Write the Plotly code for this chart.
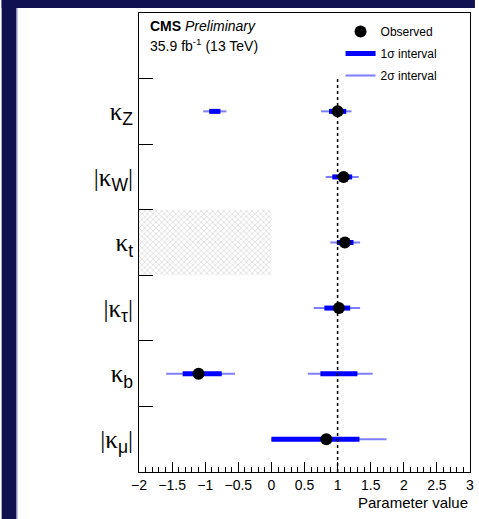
import plotly.graph_objects as go

SANS = "Liberation Sans"
NAVY = "#0f1150"


def sub(s):
    return "<sub><span style='font-family:%s'>%s</span></sub>" % (SANS, s)


# Coupling modifiers, listed top to bottom
param_labels = [
    "κ" + sub("Z"),
    "|κ" + sub("W") + "|",
    "κ" + sub("t"),
    "|κ" + sub("τ") + "|",
    "κ" + sub("b"),
    "|κ" + sub("μ") + "|",
]
# Observed best-fit values
best_fit = [1.00, 1.09, 1.11, 1.02, -1.10, 0.83]
# 68% CL intervals (may consist of two disjoint pieces)
interval_1sigma = [
    [(-0.94, -0.77), (0.87, 1.13)],
    [(0.92, 1.22)],
    [(0.99, 1.24)],
    [(0.80, 1.19)],
    [(-1.34, -0.75), (0.74, 1.30)],
    [(0.00, 1.33)],
]
# 95% CL intervals
interval_2sigma = [
    [(-1.03, -0.68), (0.75, 1.21)],
    [(0.82, 1.32)],
    [(0.89, 1.34)],
    [(0.64, 1.34)],
    [(-1.59, -0.55), (0.55, 1.53)],
    [(0.00, 1.74)],
]
# Region not probed by the fit: kappa_t < 0
excluded_param = 2
excluded_range = (-2.0, 0.0)
sm_value = 1.0

n = len(param_labels)
# row index: top row gets highest y; one empty row above for the legend
row_y = [n - 1 - i for i in range(n)]


def segments(intervals):
    xs, ys = [], []
    for y, pieces in zip(row_y, intervals):
        for lo, hi in pieces:
            xs += [lo, hi, None]
            ys += [y, y, None]
    return xs, ys


fig = go.Figure()

# hatched excluded region
fig.add_trace(go.Bar(
    y=[row_y[excluded_param]],
    x=[excluded_range[1] - excluded_range[0]],
    base=[excluded_range[0]],
    orientation="h",
    width=1,
    marker=dict(
        color="white",
        line=dict(width=0),
        pattern=dict(shape="x", fgcolor="#a8a8a8", bgcolor="white", size=4, solidity=0.3),
    ),
    showlegend=False,
    hoverinfo="skip",
))

x2, y2 = segments(interval_2sigma)
fig.add_trace(go.Scatter(
    x=x2, y=y2, mode="lines", name="2σ interval",
    line=dict(color="rgba(40,40,255,0.6)", width=2),
    legendrank=3, legendgroup="c",
))
x1, y1 = segments(interval_1sigma)
fig.add_trace(go.Scatter(
    x=x1, y=y1, mode="lines", name="1σ interval",
    line=dict(color="#0000ff", width=5),
    legendrank=2, legendgroup="b",
))
fig.add_trace(go.Scatter(
    x=best_fit, y=row_y, mode="markers", name="Observed",
    marker=dict(color="black", size=12),
    legendrank=1, legendgroup="a",
))

# SM expectation
fig.add_shape(type="line", x0=sm_value, x1=sm_value, y0=-0.5, y1=n - 0.5,
              xref="x", yref="y", line=dict(color="black", width=1.5, dash="dot"))

W, H, L, R, T, B = 479, 519, 139, 5, 13, 47
pw, ph = W - L - R, H - T - B
# dark frame on the top and left of the white canvas, kept inside the page
fig.add_shape(type="rect", xref="paper", yref="paper",
              x0=-L / pw, x1=(15 - L) / pw, y0=-B / ph, y1=(H - B) / ph,
              fillcolor=NAVY, line=dict(width=0), layer="below")
fig.add_shape(type="rect", xref="paper", yref="paper",
              x0=-L / pw, x1=(W - L) / pw, y0=(H - B - 8) / ph, y1=(H - B) / ph,
              fillcolor=NAVY, line=dict(width=0), layer="below")
fig.add_shape(type="line", xref="paper", yref="paper",
              x0=(15.5 - L) / pw, x1=(15.5 - L) / pw, y0=-B / ph, y1=(H - B - 8) / ph,
              line=dict(color="#8a8ac0", width=1), layer="below")

fig.add_annotation(text="<b>CMS</b> <i>Preliminary</i>", xref="paper", yref="paper",
                   x=(148 - L) / pw, y=(H - B - 26) / ph, xanchor="left", yanchor="middle",
                   showarrow=False, font=dict(family=SANS, size=14, color="black"))
fig.add_annotation(text="35.9 fb<sup>-1</sup> (13 TeV)", xref="paper", yref="paper",
                   x=(148 - L) / pw, y=(H - B - 45) / ph, xanchor="left", yanchor="middle",
                   showarrow=False, font=dict(family=SANS, size=14, color="black"))
fig.add_annotation(text="Parameter value", xref="paper", yref="paper",
                   x=1.0, y=(H - B - 502) / ph, xanchor="right", yanchor="middle",
                   showarrow=False, font=dict(family=SANS, size=15, color="black"))

fig.update_layout(
    width=W, height=H,
    margin=dict(l=L, r=R, t=T, b=B),
    paper_bgcolor="white",
    plot_bgcolor="white",
    showlegend=True,
    legend=dict(
        x=(343 - L) / pw, y=(H - B - 17) / ph, xanchor="left", yanchor="top",
        bgcolor="rgba(0,0,0,0)", borderwidth=0,
        font=dict(family=SANS, size=12, color="black"),
        itemwidth=30, tracegroupgap=3, traceorder="grouped",
    ),
    xaxis=dict(
        range=[-2, 3], dtick=0.5, tick0=0,
        ticks="inside", ticklen=10, tickcolor="black",
        minor=dict(dtick=0.1, ticks="inside", ticklen=5, tickcolor="black"),
        showline=True, mirror=True, linecolor="black", linewidth=1,
        showgrid=False, zeroline=False,
        tickfont=dict(family=SANS, size=14, color="black"),
    ),
    yaxis=dict(
        range=[-0.5, n + 0.5],
        tickmode="array", tickvals=row_y, ticktext=param_labels,
        ticks="inside", ticklen=0,
        minor=dict(tickmode="array", tickvals=[i + 0.5 for i in range(n)],
                   ticks="inside", ticklen=14, tickcolor="black"),
        showline=True, mirror=True, linecolor="black", linewidth=1,
        showgrid=False, zeroline=False,
        tickfont=dict(family="Liberation Serif", size=25, color="black"),
    ),
)

fig.write_html("out.html", config={"responsive": False})
